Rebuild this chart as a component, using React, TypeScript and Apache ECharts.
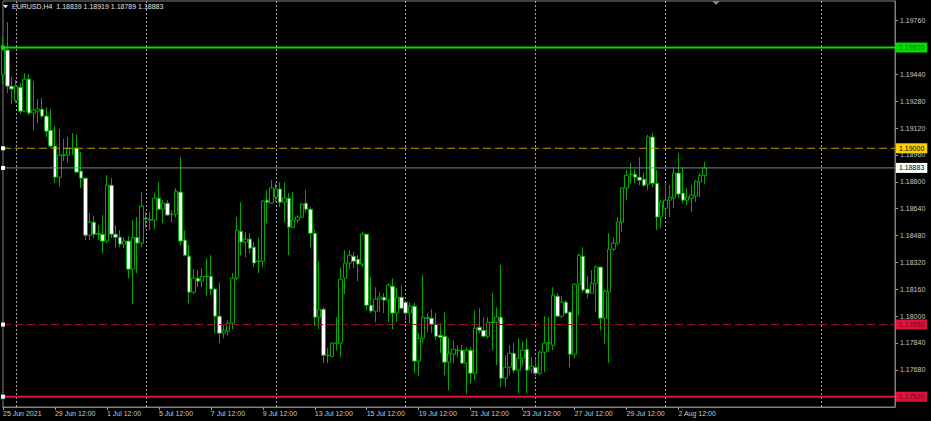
import React, { useEffect, useRef } from "react";
import * as echarts from "echarts";

// EURUSD H4 bars (first bar is partially cut at the left edge)
const opens = [
  1.19436, 1.19585, 1.1937, 1.19287, 1.19364, 1.19221, 1.19412, 1.1921, 1.19221, 1.19233, 1.19192, 1.19108, 1.19013, 1.18828, 1.18956, 1.18959, 1.18998, 1.19001, 1.18864, 1.18822,
  1.18482, 1.1856, 1.18491, 1.18488, 1.18447, 1.1878, 1.18488, 1.1847, 1.18429, 1.18447, 1.1828, 1.1847, 1.18435, 1.18584, 1.18575, 1.18572, 1.18703, 1.18637, 1.18673, 1.18608,
  1.18608, 1.18739, 1.18453, 1.18357, 1.18143, 1.18226, 1.18208, 1.18238, 1.18238, 1.18161, 1.18, 1.17898, 1.1791, 1.17958, 1.18226, 1.18506, 1.18441, 1.18459, 1.18411, 1.18329,
  1.18327, 1.18691, 1.18673, 1.18709, 1.18757, 1.18679, 1.18703, 1.1853, 1.18572, 1.1859, 1.18673, 1.18637, 1.18494, 1.17994, 1.18041, 1.17767, 1.17761, 1.17839, 1.17839, 1.18226,
  1.18316, 1.18357, 1.18339, 1.1831, 1.18488, 1.18065, 1.1803, 1.18101, 1.18113, 1.18095, 1.18178, 1.18018, 1.18113, 1.18083, 1.18018, 1.18059, 1.17732, 1.17868, 1.17991, 1.17988,
  1.17952, 1.17886, 1.1788, 1.17726, 1.17773, 1.17797, 1.17797, 1.1772, 1.17797, 1.1766, 1.17934, 1.17916, 1.1788, 1.17964, 1.17964, 1.17994, 1.1763, 1.17696, 1.17779, 1.17678,
  1.17749, 1.17803, 1.17684, 1.17696, 1.1766, 1.17785, 1.17839, 1.17827, 1.18119, 1.18, 1.18083, 1.18024, 1.17773, 1.1819, 1.18357, 1.18161, 1.18137, 1.18196, 1.18292, 1.17988,
  1.18143, 1.18399, 1.18435, 1.1856, 1.18763, 1.18843, 1.18846, 1.18828, 1.18816, 1.18786, 1.19067, 1.18792, 1.1859, 1.18643, 1.18691, 1.18703, 1.18852, 1.18733, 1.18691, 1.18703,
  1.18715, 1.18798, 1.18839,
];
const highs = [
  1.19657, 1.19752, 1.19424, 1.19406, 1.19388, 1.19448, 1.19442, 1.194, 1.19293, 1.19299, 1.19245, 1.19233, 1.19132, 1.19114, 1.19055, 1.19067, 1.1909, 1.19079, 1.18977, 1.18828,
  1.18614, 1.18596, 1.18542, 1.18602, 1.1884, 1.18822, 1.18542, 1.18512, 1.1847, 1.18476, 1.18572, 1.1859, 1.18739, 1.18619, 1.18619, 1.18733, 1.18798, 1.18691, 1.18691, 1.18631,
  1.18763, 1.18947, 1.18512, 1.18423, 1.1828, 1.18274, 1.18286, 1.18345, 1.18363, 1.18172, 1.18202, 1.17946, 1.17975, 1.18256, 1.1859, 1.18679, 1.185, 1.18494, 1.18441, 1.18465,
  1.18691, 1.18751, 1.1881, 1.18792, 1.18798, 1.18798, 1.18733, 1.18739, 1.18602, 1.18673, 1.18751, 1.18649, 1.18512, 1.18327, 1.18053, 1.17809, 1.17845, 1.17994, 1.18286, 1.18393,
  1.18393, 1.18381, 1.18363, 1.185, 1.18494, 1.18232, 1.18172, 1.18143, 1.18137, 1.18196, 1.18226, 1.18166, 1.18184, 1.18089, 1.18083, 1.18077, 1.17898, 1.18244, 1.18018, 1.18041,
  1.18018, 1.17958, 1.18024, 1.17868, 1.17857, 1.17827, 1.17827, 1.17815, 1.17815, 1.18035, 1.18047, 1.17994, 1.17994, 1.18137, 1.18053, 1.18304, 1.17767, 1.17827, 1.17839, 1.17868,
  1.17851, 1.17868, 1.17755, 1.17749, 1.17797, 1.18, 1.17994, 1.18172, 1.18137, 1.18119, 1.18095, 1.18027, 1.18196, 1.18375, 1.18411, 1.18238, 1.18274, 1.18304, 1.18295, 1.18161,
  1.18494, 1.1847, 1.1859, 1.18768, 1.1887, 1.18912, 1.18876, 1.18947, 1.18852, 1.19079, 1.1909, 1.1887, 1.18691, 1.18798, 1.1878, 1.18888, 1.18971, 1.18888, 1.18763, 1.1878,
  1.1881, 1.18852, 1.18919,
];
const lows = [
  1.19388, 1.19329, 1.19263, 1.19269, 1.19204, 1.19215, 1.19198, 1.19108, 1.1915, 1.1918, 1.19067, 1.19001, 1.18792, 1.18774, 1.18923, 1.18917, 1.18959, 1.18852, 1.18763, 1.18453,
  1.18453, 1.18465, 1.18453, 1.18375, 1.18435, 1.18465, 1.18411, 1.18411, 1.18405, 1.18226, 1.18071, 1.18256, 1.18411, 1.18524, 1.18512, 1.18518, 1.18631, 1.18554, 1.18596, 1.1856,
  1.1859, 1.18423, 1.18357, 1.18077, 1.18131, 1.18172, 1.18172, 1.18125, 1.18125, 1.17898, 1.17839, 1.17868, 1.17886, 1.17922, 1.18214, 1.18363, 1.18351, 1.18375, 1.18292, 1.18256,
  1.18292, 1.18554, 1.1867, 1.18679, 1.18649, 1.1856, 1.18363, 1.18524, 1.18554, 1.18584, 1.18619, 1.18411, 1.1794, 1.17922, 1.1772, 1.1772, 1.17755, 1.17797, 1.17755, 1.18131,
  1.1828, 1.18286, 1.18208, 1.18292, 1.18035, 1.18018, 1.17964, 1.18024, 1.18018, 1.17964, 1.17922, 1.17964, 1.18041, 1.17976, 1.17958, 1.1766, 1.17642, 1.17839, 1.17904, 1.17898,
  1.17857, 1.17779, 1.17648, 1.17559, 1.1772, 1.17755, 1.17717, 1.17537, 1.176, 1.17618, 1.17898, 1.17874, 1.17868, 1.17797, 1.17708, 1.17576, 1.17576, 1.17648, 1.1766, 1.17541,
  1.17708, 1.17541, 1.1766, 1.17642, 1.17648, 1.17666, 1.17785, 1.17797, 1.17994, 1.17988, 1.18012, 1.17696, 1.17749, 1.18006, 1.18137, 1.18107, 1.18134, 1.18024, 1.17916, 1.17833,
  1.1772, 1.18387, 1.18423, 1.185, 1.18691, 1.18792, 1.18792, 1.1878, 1.18768, 1.18751, 1.18768, 1.18512, 1.18524, 1.1859, 1.1859, 1.18643, 1.18703, 1.18673, 1.18661, 1.18619,
  1.18679, 1.18709, 1.18789,
];
const closes = [
  1.19585, 1.1937, 1.19353, 1.1937, 1.19221, 1.19412, 1.1921, 1.19227, 1.19233, 1.19192, 1.19102, 1.19013, 1.18828, 1.18959, 1.18962, 1.19001, 1.19001, 1.18858, 1.18822, 1.18482,
  1.1856, 1.18488, 1.18488, 1.18447, 1.1878, 1.18488, 1.1847, 1.18429, 1.18447, 1.1828, 1.1847, 1.18435, 1.18655, 1.18578, 1.18572, 1.18703, 1.18637, 1.18673, 1.18602, 1.18605,
  1.18745, 1.18447, 1.18363, 1.18143, 1.18226, 1.18208, 1.18238, 1.18235, 1.18161, 1.18, 1.17898, 1.17916, 1.17958, 1.18226, 1.18512, 1.18441, 1.18459, 1.18405, 1.18316, 1.18325,
  1.18685, 1.18679, 1.18763, 1.18757, 1.18679, 1.18703, 1.1853, 1.18572, 1.1859, 1.18667, 1.18637, 1.18494, 1.17994, 1.18041, 1.17767, 1.17764, 1.17839, 1.17842, 1.1822, 1.18316,
  1.18363, 1.18327, 1.1831, 1.18488, 1.18065, 1.1803, 1.18101, 1.18113, 1.18095, 1.18184, 1.18018, 1.18113, 1.18047, 1.18018, 1.18059, 1.17732, 1.17868, 1.17994, 1.17988, 1.17952,
  1.1788, 1.17874, 1.17726, 1.17779, 1.17803, 1.17794, 1.1772, 1.17797, 1.1766, 1.17928, 1.17916, 1.1788, 1.17964, 1.17961, 1.17994, 1.1763, 1.17696, 1.17779, 1.17678, 1.17749,
  1.17797, 1.17678, 1.17701, 1.1766, 1.17785, 1.17839, 1.17842, 1.18125, 1.18, 1.18083, 1.18018, 1.17773, 1.1819, 1.18363, 1.18155, 1.18137, 1.18196, 1.18292, 1.17988, 1.18149,
  1.18399, 1.18435, 1.1856, 1.18763, 1.1884, 1.18846, 1.18828, 1.1881, 1.1878, 1.19067, 1.18792, 1.1859, 1.18679, 1.18691, 1.18709, 1.18852, 1.18727, 1.18691, 1.18709, 1.18721,
  1.18804, 1.18839, 1.18883,
];

// time-scale labels (one every 12 bars) and price-scale ticks
const xLabels = [
  "25 Jun 2021", "29 Jun 12:00", "1 Jul 12:00", "5 Jul 12:00", "7 Jul 12:00", "9 Jul 12:00", "13 Jul 12:00",
  "15 Jul 12:00", "19 Jul 12:00", "21 Jul 12:00", "23 Jul 12:00", "27 Jul 12:00", "29 Jul 12:00", "2 Aug 12:00",
];
const xLabelSlots = [0, 12, 24, 36, 48, 60, 72, 84, 96, 108, 120, 132, 144, 156];
const gridSlots = [3, 33, 63, 93, 123, 153, 189];
const yTicks = [
  1.1752, 1.1768, 1.1784, 1.18, 1.1816, 1.1832, 1.1848, 1.1864, 1.188, 1.1896, 1.1912, 1.1928, 1.1944, 1.196, 1.1976,
];
// horizontal levels: support/resistance lines and current bid
const levelPrices = [1.196, 1.19, 1.18883, 1.1795, 1.1752];
const titleText = "EURUSD,H4  1.18839 1.18919 1.18789 1.18883";
const SLOT_COUNT = 207;

const FONT = "Liberation Sans, Arial, sans-serif";

export default function App() {
  const ref = useRef<HTMLDivElement>(null);
  useEffect(() => {
    document.body.style.margin = "0";
    document.body.style.background = "#000";
    const chart = echarts.init(ref.current!, null, { renderer: "svg" });
    const categories = Array.from({ length: SLOT_COUNT }, (_, i) => String(i));
    const candles = opens.map((o, i) => [o, closes[i], lows[i], highs[i]]);

    const levelStyles = [
      { line: { color: "#00e000", width: 2, type: "solid" }, bg: "#00e000", fg: "#005a00", z: 6 },
      { line: { color: "#c89b00", width: 1, type: [8, 4] }, bg: "#ffd000", fg: "#000000", z: 6 },
      { line: { color: "#778899", width: 1, type: "solid" }, bg: "#ffffff", fg: "#000000", z: 5 },
      { line: { color: "#9b1030", width: 1, type: [8, 4] }, bg: "#dc143c", fg: "#7a0018", z: 6 },
      { line: { color: "#dc143c", width: 2, type: "solid" }, bg: "#dc143c", fg: "#7a0018", z: 6 },
    ];

    const levelSeries = levelPrices.map((p, i) => ({
      type: "line",
      name: "level" + i,
      data: [
        [0, p],
        [SLOT_COUNT - 1, p],
      ],
      z: levelStyles[i].z,
      silent: true,
      symbol: "rect",
      symbolSize: 4,
      showSymbol: true,
      clip: false,
      lineStyle: levelStyles[i].line,
      itemStyle: { color: i === 0 ? "#00e000" : "#ffffff", borderWidth: 0 },
      endLabel: {
        show: true,
        distance: 1,
        formatter: () => p.toFixed(5),
        backgroundColor: levelStyles[i].bg,
        color: levelStyles[i].fg,
        fontSize: 7,
        fontFamily: FONT,
        padding: [2, 3, 1, 3],
      },
    }));

    chart.setOption({
      animation: false,
      backgroundColor: "#000000",
      grid: {
        left: 2,
        right: 36,
        top: 1,
        bottom: 14,
        show: true,
        borderColor: "#808080",
        borderWidth: 1,
        backgroundColor: "#000000",
      },
      xAxis: {
        type: "category",
        data: categories,
        boundaryGap: false,
        axisLine: { show: true, lineStyle: { color: "#808080" } },
        axisTick: {
          show: true,
          length: 3,
          interval: (i: number) => xLabelSlots.includes(i),
          lineStyle: { color: "#a0a0a0" },
        },
        axisLabel: {
          interval: (i: number) => xLabelSlots.includes(i),
          formatter: (_v: string, i: number) => {
            const k = xLabelSlots.indexOf(i);
            return k >= 0 ? xLabels[k] : "";
          },
          align: "left",
          color: "#c8c8c8",
          fontSize: 7,
          fontFamily: FONT,
          margin: 3,
          hideOverlap: false,
        },
        splitLine: {
          show: true,
          interval: (i: number) => gridSlots.includes(i),
          lineStyle: { color: "#a8a8a8", type: [2, 2], width: 1 },
        },
      },
      yAxis: {
        type: "value",
        position: "right",
        min: 1.174587,
        max: 1.1987736,
        splitLine: { show: false },
        axisLine: { show: true, lineStyle: { color: "#808080" } },
        axisTick: { show: true, length: 3, customValues: yTicks, lineStyle: { color: "#a0a0a0" } },
        axisLabel: {
          customValues: yTicks,
          formatter: (v: number) => v.toFixed(5),
          color: "#c8c8c8",
          fontSize: 7,
          fontFamily: FONT,
          margin: 5,
        },
      },
      series: [
        {
          type: "candlestick",
          data: candles,
          barWidth: 4,
          clip: true,
          z: 3,
          itemStyle: {
            color: "#000000",
            color0: "#ffffff",
            borderColor: "#00a800",
            borderColor0: "#00a800",
            borderWidth: 1,
          },
        },
        ...levelSeries,
      ],
      graphic: [
        {
          type: "polygon",
          shape: { points: [[3, 5], [8, 5], [5.5, 8.5]] },
          style: { fill: "#e0e0e0" },
        },
        {
          type: "text",
          left: 12,
          top: 3,
          style: { text: titleText, fill: "#e0e0e0", fontSize: 7, fontFamily: FONT },
        },
        {
          type: "polygon",
          shape: { points: [[712, 1], [720, 1], [716, 5]] },
          style: { fill: "#808080" },
        },
      ],
    });
    return () => chart.dispose();
  }, []);
  return (
    <div
      ref={ref}
      style={{ position: "fixed", left: 0, top: 0, width: 931, height: 421, background: "#000" }}
    />
  );
}
